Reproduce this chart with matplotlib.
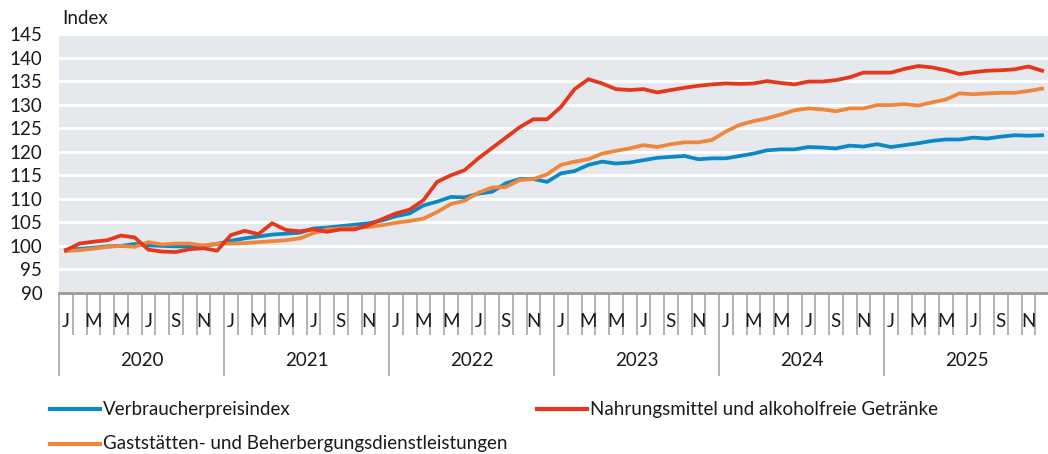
import numpy as np
import matplotlib
matplotlib.use("Agg")
import matplotlib.pyplot as plt
from matplotlib.lines import Line2D

plt.rcParams['font.family'] = ['Lato', 'DejaVu Sans']

# -----------------------------
# Data: monthly index, Jan 2020 - Dec 2025
# -----------------------------
years = ['2020', '2021', '2022', '2023', '2024', '2025']
month_labels = ['J', '', 'M', '', 'M', '', 'J', '', 'S', '', 'N', '']

vpi = [
    99.1, 99.4, 99.6, 99.9, 100.0, 100.4, 100.1, 100.0, 99.9, 99.9, 100.0, 100.4,
    101.1, 101.6, 102.0, 102.4, 102.6, 102.8, 103.7, 103.9, 104.2, 104.5, 104.8, 105.4,
    106.3, 106.9, 108.6, 109.4, 110.4, 110.3, 111.1, 111.5, 113.3, 114.2, 114.2, 113.6,
    115.4, 115.9, 117.2, 117.9, 117.5, 117.7, 118.2, 118.7, 118.9, 119.1, 118.4, 118.6,
    118.6, 119.1, 119.6, 120.3, 120.5, 120.5, 121.0, 120.9, 120.7, 121.3, 121.1, 121.6,
    121.0, 121.4, 121.8, 122.3, 122.6, 122.6, 123.0, 122.8, 123.2, 123.5, 123.4, 123.5,
]
nahrung = [
    99.1, 100.5, 100.9, 101.2, 102.2, 101.8, 99.2, 98.8, 98.7, 99.3, 99.5, 99.0,
    102.3, 103.2, 102.5, 104.8, 103.4, 103.1, 103.5, 103.0, 103.5, 103.5, 104.4, 105.7,
    106.9, 107.7, 109.7, 113.6, 115.0, 116.1, 118.6, 120.8, 123.0, 125.2, 126.9, 126.9,
    129.5, 133.3, 135.4, 134.5, 133.3, 133.1, 133.3, 132.6, 133.1, 133.6, 134.0, 134.3,
    134.5, 134.4, 134.5, 135.0, 134.6, 134.3, 134.9, 134.9, 135.2, 135.8, 136.8, 136.8,
    136.8, 137.6, 138.2, 137.9, 137.3, 136.5, 136.9, 137.2, 137.3, 137.5, 138.1, 137.2,
]
gast = [
    98.9, 99.1, 99.4, 99.8, 100.0, 99.8, 100.8, 100.3, 100.5, 100.5, 100.1, 100.5,
    100.5, 100.6, 100.8, 101.0, 101.2, 101.6, 102.7, 103.5, 103.7, 103.8, 104.0, 104.4,
    104.9, 105.3, 105.8, 107.2, 108.9, 109.6, 111.3, 112.4, 112.5, 114.0, 114.2, 115.2,
    117.2, 117.9, 118.4, 119.6, 120.2, 120.7, 121.4, 121.0, 121.6, 122.0, 122.0, 122.5,
    124.3, 125.7, 126.5, 127.1, 127.9, 128.8, 129.2, 129.0, 128.6, 129.2, 129.2, 129.9,
    129.9, 130.1, 129.8, 130.5, 131.1, 132.4, 132.2, 132.4, 132.5, 132.5, 132.9, 133.4,
]

names = ['Verbraucherpreisindex',
         'Nahrungsmittel und alkoholfreie Getränke',
         'Gaststätten- und Beherbergungsdienstleistungen']
colors = ['#0a89c6', '#e6361b', '#f0863a']

FS = 13.5
TXT = '#1a1a1a'

# -----------------------------
# Figure
# -----------------------------
W, H = 1048, 454
fig = plt.figure(figsize=(W / 100, H / 100), dpi=100)
ax = fig.add_axes([59 / W, 1 - 293 / H, 990 / W, 259 / H])
ax.set_facecolor('#e5e9ed')

x = np.arange(len(vpi))
ax.plot(x, vpi, color=colors[0], lw=2.7, solid_joinstyle='miter', zorder=3)
ax.plot(x, gast, color=colors[2], lw=2.7, solid_joinstyle='miter', zorder=4)
ax.plot(x, nahrung, color=colors[1], lw=2.7, solid_joinstyle='miter', zorder=5)

ax.set_xlim(-0.5, len(vpi) - 0.5)
ax.set_ylim(90, 145)
ax.set_yticks(np.arange(90, 146, 5))
ax.grid(axis='y', color='white', lw=2)
ax.set_axisbelow(True)

for s in ['top', 'right', 'left']:
    ax.spines[s].set_visible(False)
ax.spines['bottom'].set_color('#9a9a9a')
ax.spines['bottom'].set_linewidth(2)

ax.tick_params(axis='y', length=0, labelsize=FS, pad=12, labelcolor=TXT)

# two-level category axis: month boundaries (minor) and year boundaries (major)
ax.set_xticks(np.arange(-0.5, len(vpi), 12))
ax.set_xticks(np.arange(-0.5, len(vpi), 1), minor=True)
ax.set_xticklabels([])
ax.tick_params(axis='x', which='major', length=60, width=1.2, color='#a6a6a6')
ax.tick_params(axis='x', which='minor', length=30, width=1.2, color='#a6a6a6')

trans = ax.get_xaxis_transform()
for i in range(len(vpi)):
    lab = month_labels[i % 12]
    if lab:
        ax.text(i, -0.11, lab, transform=trans, ha='center', va='center',
                fontsize=FS, color=TXT)
for k, yr in enumerate(years):
    ax.text(k * 12 + 5.5, -0.26, yr, transform=trans, ha='center', va='center',
            fontsize=FS, color=TXT)

fig.text(62 / W, 1 - 19 / H, 'Index', ha='left', va='center', fontsize=FS, color=TXT)

# legend (two entries in first row, one in second)
legend_pos = [(50, 409), (537, 409), (50, 444)]
for (lx, ly), name, c in zip(legend_pos, names, colors):
    fig.add_artist(Line2D([lx / W, (lx + 50) / W], [1 - ly / H, 1 - ly / H],
                          color=c, lw=3, transform=fig.transFigure))
    fig.text((lx + 53) / W, 1 - ly / H, name, ha='left', va='center',
             fontsize=FS, color=TXT)

fig.savefig('out.png', dpi=100)
